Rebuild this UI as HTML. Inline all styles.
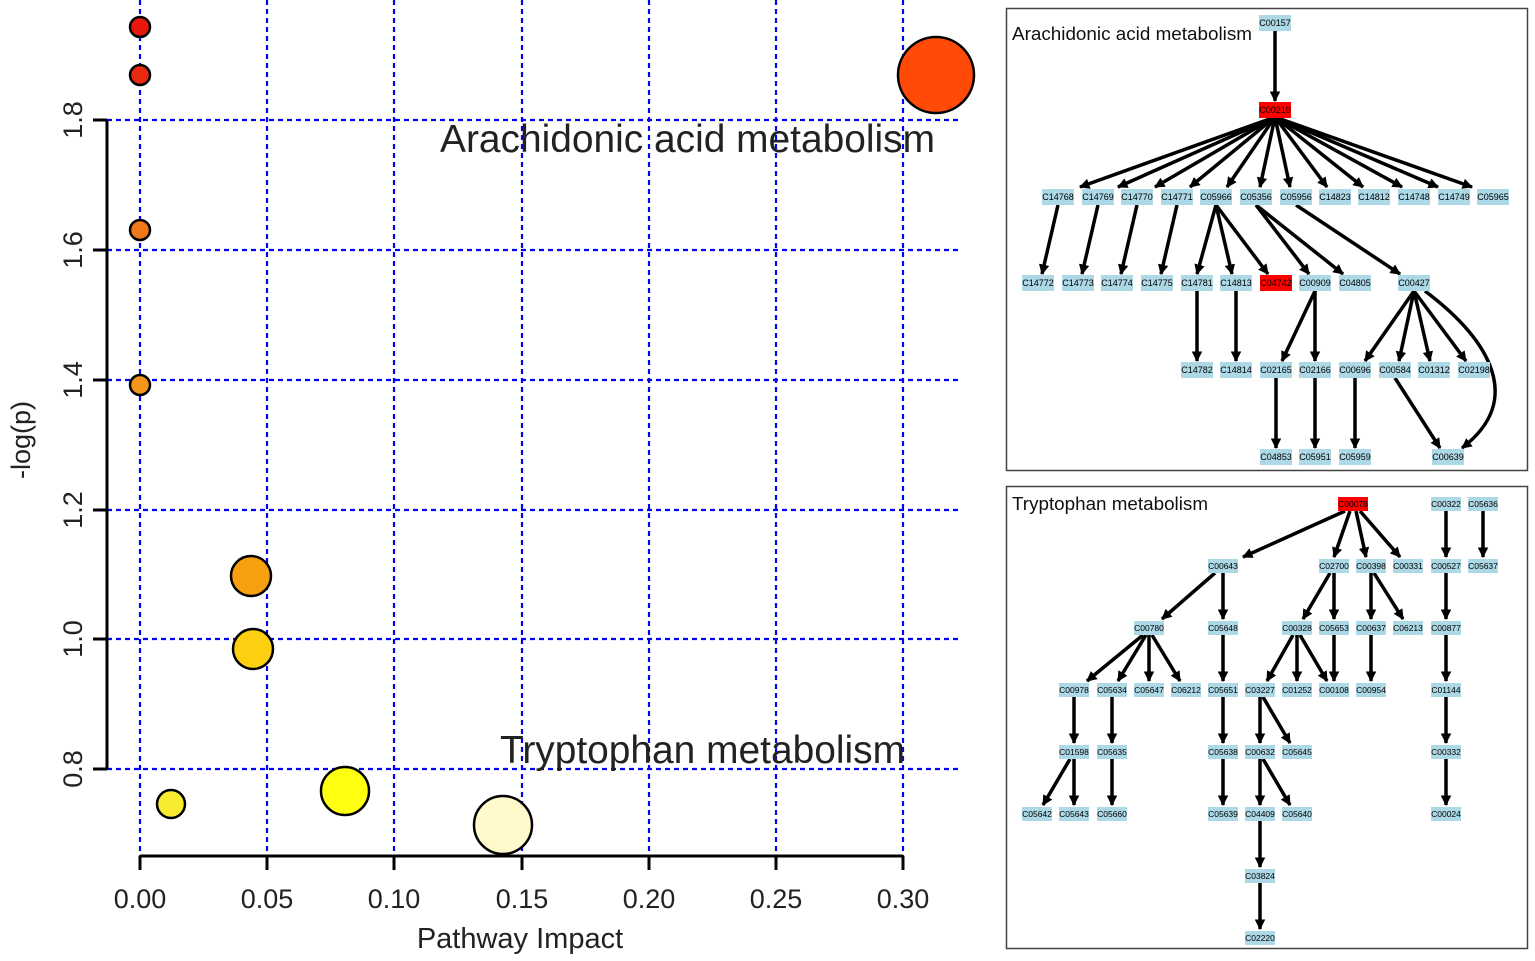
<!DOCTYPE html><html><head><style>body{margin:0;background:#fff}svg{display:block}</style></head><body>
<svg width="1535" height="961" xmlns="http://www.w3.org/2000/svg" font-family="Liberation Sans, sans-serif">
<defs><marker id="a" viewBox="0 0 10 10" refX="9" refY="5" markerWidth="3" markerHeight="3" orient="auto"><path d="M0,0L10,5L0,10z" fill="#000"/></marker></defs>
<g stroke="#00f" stroke-width="2.2" stroke-dasharray="5,4">
<line x1="140" y1="0" x2="140" y2="856"/><line x1="267" y1="0" x2="267" y2="856"/><line x1="394" y1="0" x2="394" y2="856"/><line x1="522" y1="0" x2="522" y2="856"/><line x1="649" y1="0" x2="649" y2="856"/><line x1="776" y1="0" x2="776" y2="856"/><line x1="903" y1="0" x2="903" y2="856"/>
<line x1="107" y1="120" x2="960" y2="120"/><line x1="107" y1="250" x2="960" y2="250"/><line x1="107" y1="380" x2="960" y2="380"/><line x1="107" y1="510" x2="960" y2="510"/><line x1="107" y1="639" x2="960" y2="639"/><line x1="107" y1="769" x2="960" y2="769"/>
</g>
<g stroke="#000" stroke-width="3">
<line x1="107" y1="120" x2="107" y2="769"/><line x1="93" y1="120" x2="107" y2="120"/><line x1="93" y1="250" x2="107" y2="250"/><line x1="93" y1="380" x2="107" y2="380"/><line x1="93" y1="510" x2="107" y2="510"/><line x1="93" y1="639" x2="107" y2="639"/><line x1="93" y1="769" x2="107" y2="769"/>
<line x1="140" y1="856" x2="903" y2="856"/><line x1="140" y1="856" x2="140" y2="870"/><line x1="267" y1="856" x2="267" y2="870"/><line x1="394" y1="856" x2="394" y2="870"/><line x1="522" y1="856" x2="522" y2="870"/><line x1="649" y1="856" x2="649" y2="870"/><line x1="776" y1="856" x2="776" y2="870"/><line x1="903" y1="856" x2="903" y2="870"/>
</g>
<g font-size="27" fill="#222" text-anchor="middle">
<text x="140" y="908">0.00</text><text x="267" y="908">0.05</text><text x="394" y="908">0.10</text><text x="522" y="908">0.15</text><text x="649" y="908">0.20</text><text x="776" y="908">0.25</text><text x="903" y="908">0.30</text>
<text transform="translate(82,120) rotate(-90)">1.8</text><text transform="translate(82,250) rotate(-90)">1.6</text><text transform="translate(82,380) rotate(-90)">1.4</text><text transform="translate(82,510) rotate(-90)">1.2</text><text transform="translate(82,639) rotate(-90)">1.0</text><text transform="translate(82,769) rotate(-90)">0.8</text>
<text x="520" y="948" font-size="29">Pathway Impact</text>
<text transform="translate(30,440) rotate(-90)">-log(p)</text>
</g>
<g stroke="#000" stroke-width="2.5">
<circle cx="140" cy="27" r="10" fill="#e8180c"/><circle cx="140" cy="75" r="10" fill="#ea2a10"/><circle cx="140" cy="230" r="10" fill="#f07818"/><circle cx="140" cy="385" r="10" fill="#f5961c"/>
<circle cx="251" cy="576" r="20" fill="#f6a010"/><circle cx="253" cy="649" r="20" fill="#fcd010"/><circle cx="171" cy="804" r="14" fill="#f8ec30"/><circle cx="345" cy="791" r="24" fill="#ffff10"/><circle cx="503" cy="825" r="29" fill="#fff9cc"/><circle cx="936" cy="75" r="38" fill="#ff4a08"/>
</g>
<text x="935" y="152" font-size="39" text-anchor="end" fill="#222" textLength="495" lengthAdjust="spacingAndGlyphs">Arachidonic acid metabolism</text>
<text x="905" y="763" font-size="39" text-anchor="end" fill="#222" textLength="405" lengthAdjust="spacingAndGlyphs">Tryptophan metabolism</text>

<rect x="1006.5" y="8.5" width="521" height="462" fill="none" stroke="#444" stroke-width="1.5"/>
<rect x="1006.5" y="486.5" width="521" height="462" fill="none" stroke="#444" stroke-width="1.5"/>
<text x="1012" y="40" font-size="18.5" fill="#111" textLength="240" lengthAdjust="spacingAndGlyphs">Arachidonic acid metabolism</text>
<text x="1012" y="510" font-size="18.5" fill="#111" textLength="196" lengthAdjust="spacingAndGlyphs">Tryptophan metabolism</text>

<g stroke="#000" stroke-width="3.5" marker-end="url(#a)" fill="none">
<line x1="1275" y1="31" x2="1275" y2="101"/>
<line x1="1275" y1="117" x2="1080" y2="187"/><line x1="1275" y1="117" x2="1118" y2="187"/><line x1="1275" y1="117" x2="1155" y2="187"/><line x1="1275" y1="117" x2="1190" y2="187"/><line x1="1275" y1="117" x2="1227" y2="187"/><line x1="1275" y1="117" x2="1260" y2="187"/><line x1="1275" y1="117" x2="1290" y2="187"/><line x1="1275" y1="117" x2="1327" y2="187"/><line x1="1275" y1="117" x2="1363" y2="187"/><line x1="1275" y1="117" x2="1402" y2="187"/><line x1="1275" y1="117" x2="1438" y2="187"/><line x1="1275" y1="117" x2="1472" y2="187"/>
<line x1="1058" y1="205" x2="1042" y2="274"/><line x1="1098" y1="205" x2="1082" y2="274"/><line x1="1137" y1="205" x2="1121" y2="274"/><line x1="1177" y1="205" x2="1161" y2="274"/>
<line x1="1216" y1="205" x2="1197" y2="274"/><line x1="1216" y1="205" x2="1232" y2="274"/><line x1="1216" y1="205" x2="1268" y2="274"/>
<line x1="1256" y1="205" x2="1309" y2="274"/><line x1="1256" y1="205" x2="1343" y2="274"/><line x1="1296" y1="205" x2="1400" y2="274"/>
<line x1="1197" y1="291" x2="1197" y2="361"/><line x1="1236" y1="291" x2="1236" y2="361"/><line x1="1315" y1="291" x2="1282" y2="361"/><line x1="1315" y1="291" x2="1315" y2="361"/>
<line x1="1414" y1="291" x2="1365" y2="361"/><line x1="1414" y1="291" x2="1399" y2="361"/><line x1="1414" y1="291" x2="1430" y2="361"/><line x1="1414" y1="291" x2="1466" y2="361"/>
<path d="M1425,291 C1490,340 1525,400 1462,448"/>
<line x1="1276" y1="378" x2="1276" y2="448"/><line x1="1315" y1="378" x2="1315" y2="448"/><line x1="1355" y1="378" x2="1355" y2="448"/><line x1="1395" y1="378" x2="1440" y2="448"/>

<line x1="1345" y1="511" x2="1243" y2="557"/><line x1="1350" y1="511" x2="1334" y2="557"/><line x1="1356" y1="511" x2="1366" y2="557"/><line x1="1360" y1="511" x2="1400" y2="557"/>
<line x1="1446" y1="511" x2="1446" y2="557"/><line x1="1483" y1="511" x2="1483" y2="557"/>
<line x1="1215" y1="573" x2="1162" y2="619"/><line x1="1223" y1="573" x2="1223" y2="619"/>
<line x1="1330" y1="573" x2="1303" y2="619"/><line x1="1334" y1="573" x2="1334" y2="619"/>
<line x1="1371" y1="573" x2="1371" y2="619"/><line x1="1374" y1="573" x2="1403" y2="619"/><line x1="1446" y1="573" x2="1446" y2="619"/>
<line x1="1143" y1="635" x2="1087" y2="681"/><line x1="1146" y1="635" x2="1118" y2="681"/><line x1="1149" y1="635" x2="1149" y2="681"/><line x1="1152" y1="635" x2="1180" y2="681"/>
<line x1="1223" y1="635" x2="1223" y2="681"/>
<line x1="1293" y1="635" x2="1267" y2="681"/><line x1="1297" y1="635" x2="1297" y2="681"/><line x1="1300" y1="635" x2="1327" y2="681"/><line x1="1334" y1="635" x2="1334" y2="681"/>
<line x1="1371" y1="635" x2="1371" y2="681"/><line x1="1446" y1="635" x2="1446" y2="681"/>
<line x1="1074" y1="697" x2="1074" y2="743"/><line x1="1112" y1="697" x2="1112" y2="743"/><line x1="1223" y1="697" x2="1223" y2="743"/><line x1="1260" y1="697" x2="1260" y2="743"/><line x1="1263" y1="697" x2="1290" y2="743"/><line x1="1446" y1="697" x2="1446" y2="743"/>
<line x1="1070" y1="759" x2="1043" y2="805"/><line x1="1074" y1="759" x2="1074" y2="805"/><line x1="1112" y1="759" x2="1112" y2="805"/><line x1="1223" y1="759" x2="1223" y2="805"/><line x1="1260" y1="759" x2="1260" y2="805"/><line x1="1263" y1="759" x2="1290" y2="805"/><line x1="1446" y1="759" x2="1446" y2="805"/>
<line x1="1260" y1="821" x2="1260" y2="867"/><line x1="1260" y1="883" x2="1260" y2="929"/>
</g>

<g font-size="9" text-anchor="middle" fill="#000">
<g fill="#add8e6">
<rect x="1259" y="15" width="32" height="16"/>
<rect x="1042" y="189" width="32" height="16"/><rect x="1082" y="189" width="32" height="16"/><rect x="1121" y="189" width="32" height="16"/><rect x="1161" y="189" width="32" height="16"/><rect x="1200" y="189" width="32" height="16"/><rect x="1240" y="189" width="32" height="16"/><rect x="1280" y="189" width="32" height="16"/><rect x="1319" y="189" width="32" height="16"/><rect x="1358" y="189" width="32" height="16"/><rect x="1398" y="189" width="32" height="16"/><rect x="1438" y="189" width="32" height="16"/><rect x="1477" y="189" width="32" height="16"/>
<rect x="1022" y="275" width="32" height="16"/><rect x="1062" y="275" width="32" height="16"/><rect x="1101" y="275" width="32" height="16"/><rect x="1141" y="275" width="32" height="16"/><rect x="1181" y="275" width="32" height="16"/><rect x="1220" y="275" width="32" height="16"/><rect x="1299" y="275" width="32" height="16"/><rect x="1339" y="275" width="32" height="16"/><rect x="1398" y="275" width="32" height="16"/>
<rect x="1181" y="362" width="32" height="16"/><rect x="1220" y="362" width="32" height="16"/><rect x="1260" y="362" width="32" height="16"/><rect x="1299" y="362" width="32" height="16"/><rect x="1339" y="362" width="32" height="16"/><rect x="1379" y="362" width="32" height="16"/><rect x="1418" y="362" width="32" height="16"/><rect x="1458" y="362" width="32" height="16"/>
<rect x="1260" y="449" width="32" height="16"/><rect x="1299" y="449" width="32" height="16"/><rect x="1339" y="449" width="32" height="16"/><rect x="1432" y="449" width="32" height="16"/>
</g>
<rect x="1259" y="102" width="32" height="16" fill="#f00"/><rect x="1260" y="275" width="32" height="16" fill="#f00"/>
<text x="1275" y="26">C00157</text><text x="1275" y="113">C00219</text>
<text x="1058" y="200">C14768</text><text x="1098" y="200">C14769</text><text x="1137" y="200">C14770</text><text x="1177" y="200">C14771</text><text x="1216" y="200">C05966</text><text x="1256" y="200">C05356</text><text x="1296" y="200">C05956</text><text x="1335" y="200">C14823</text><text x="1374" y="200">C14812</text><text x="1414" y="200">C14748</text><text x="1454" y="200">C14749</text><text x="1493" y="200">C05965</text>
<text x="1038" y="286">C14772</text><text x="1078" y="286">C14773</text><text x="1117" y="286">C14774</text><text x="1157" y="286">C14775</text><text x="1197" y="286">C14781</text><text x="1236" y="286">C14813</text><text x="1276" y="286">C04742</text><text x="1315" y="286">C00909</text><text x="1355" y="286">C04805</text><text x="1414" y="286">C00427</text>
<text x="1197" y="373">C14782</text><text x="1236" y="373">C14814</text><text x="1276" y="373">C02165</text><text x="1315" y="373">C02166</text><text x="1355" y="373">C00696</text><text x="1395" y="373">C00584</text><text x="1434" y="373">C01312</text><text x="1474" y="373">C02198</text>
<text x="1276" y="460">C04853</text><text x="1315" y="460">C05951</text><text x="1355" y="460">C05959</text><text x="1448" y="460">C00639</text>
</g>
<g font-size="8.5" text-anchor="middle" fill="#000">
<g fill="#add8e6">
<rect x="1431" y="497" width="30" height="14"/><rect x="1468" y="497" width="30" height="14"/>
<rect x="1208" y="559" width="30" height="14"/><rect x="1319" y="559" width="30" height="14"/><rect x="1356" y="559" width="30" height="14"/><rect x="1393" y="559" width="30" height="14"/><rect x="1431" y="559" width="30" height="14"/><rect x="1468" y="559" width="30" height="14"/>
<rect x="1134" y="621" width="30" height="14"/><rect x="1208" y="621" width="30" height="14"/><rect x="1282" y="621" width="30" height="14"/><rect x="1319" y="621" width="30" height="14"/><rect x="1356" y="621" width="30" height="14"/><rect x="1393" y="621" width="30" height="14"/><rect x="1431" y="621" width="30" height="14"/>
<rect x="1059" y="683" width="30" height="14"/><rect x="1097" y="683" width="30" height="14"/><rect x="1134" y="683" width="30" height="14"/><rect x="1171" y="683" width="30" height="14"/><rect x="1208" y="683" width="30" height="14"/><rect x="1245" y="683" width="30" height="14"/><rect x="1282" y="683" width="30" height="14"/><rect x="1319" y="683" width="30" height="14"/><rect x="1356" y="683" width="30" height="14"/><rect x="1431" y="683" width="30" height="14"/>
<rect x="1059" y="745" width="30" height="14"/><rect x="1097" y="745" width="30" height="14"/><rect x="1208" y="745" width="30" height="14"/><rect x="1245" y="745" width="30" height="14"/><rect x="1282" y="745" width="30" height="14"/><rect x="1431" y="745" width="30" height="14"/>
<rect x="1022" y="807" width="30" height="14"/><rect x="1059" y="807" width="30" height="14"/><rect x="1097" y="807" width="30" height="14"/><rect x="1208" y="807" width="30" height="14"/><rect x="1245" y="807" width="30" height="14"/><rect x="1282" y="807" width="30" height="14"/><rect x="1431" y="807" width="30" height="14"/>
<rect x="1245" y="869" width="30" height="14"/><rect x="1245" y="931" width="30" height="14"/>
</g>
<rect x="1338" y="497" width="30" height="14" fill="#f00"/>
<text x="1353" y="507">C00078</text><text x="1446" y="507">C00322</text><text x="1483" y="507">C05636</text>
<text x="1223" y="569">C00643</text><text x="1334" y="569">C02700</text><text x="1371" y="569">C00398</text><text x="1408" y="569">C00331</text><text x="1446" y="569">C00527</text><text x="1483" y="569">C05637</text>
<text x="1149" y="631">C00780</text><text x="1223" y="631">C05648</text><text x="1297" y="631">C00328</text><text x="1334" y="631">C05653</text><text x="1371" y="631">C00637</text><text x="1408" y="631">C06213</text><text x="1446" y="631">C00877</text>
<text x="1074" y="693">C00978</text><text x="1112" y="693">C05634</text><text x="1149" y="693">C05647</text><text x="1186" y="693">C06212</text><text x="1223" y="693">C05651</text><text x="1260" y="693">C03227</text><text x="1297" y="693">C01252</text><text x="1334" y="693">C00108</text><text x="1371" y="693">C00954</text><text x="1446" y="693">C01144</text>
<text x="1074" y="755">C01598</text><text x="1112" y="755">C05635</text><text x="1223" y="755">C05638</text><text x="1260" y="755">C00632</text><text x="1297" y="755">C05645</text><text x="1446" y="755">C00332</text>
<text x="1037" y="817">C05642</text><text x="1074" y="817">C05643</text><text x="1112" y="817">C05660</text><text x="1223" y="817">C05639</text><text x="1260" y="817">C04409</text><text x="1297" y="817">C05640</text><text x="1446" y="817">C00024</text>
<text x="1260" y="879">C03824</text><text x="1260" y="941">C02220</text>
</g>
</svg>
</body></html>
